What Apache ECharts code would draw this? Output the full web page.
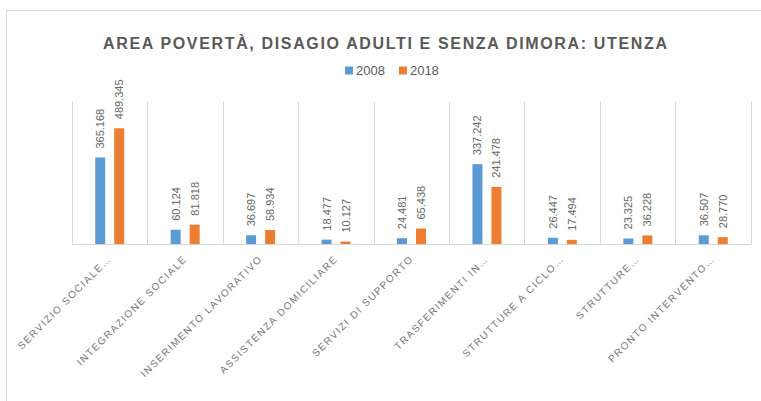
<!DOCTYPE html>
<html>
<head>
<meta charset="utf-8">
<script src="https://cdn.jsdelivr.net/npm/echarts@6/dist/echarts.min.js"></script>
<style>
  html, body { margin: 0; padding: 0; background: #fff; }
  #chart { width: 761px; height: 401px; }
  /* tracked caps for the title and the category labels */
  #chart text[style*="16px"] { letter-spacing: 1.65px; }
  #chart text[style*="10px"] { letter-spacing: 1.5px; }
</style>
</head>
<body>
<div id="chart"></div>
<script>
// Service categories (labels as shown, truncated where they overflow)
const categories = [
  'SERVIZIO SOCIALE…',
  'INTEGRAZIONE SOCIALE',
  'INSERIMENTO LAVORATIVO',
  'ASSISTENZA DOMICILIARE',
  'SERVIZI DI SUPPORTO',
  'TRASFERIMENTI IN…',
  'STRUTTURE A CICLO…',
  'STRUTTURE…',
  'PRONTO INTERVENTO…'
];
const seriesNames = ['2008', '2018'];
const users2008 = [365168, 60124, 36697, 18477, 24481, 337242, 26447, 23325, 36507];
const users2018 = [489345, 81818, 58934, 10127, 65438, 241478, 17494, 36228, 28770];

// Italian thousands separator: 365168 -> "365.168"
function fmt(v) {
  const s = String(Math.round(v));
  return s.replace(/\B(?=(\d{3})+(?!\d))/g, '.');
}

const labelStyle = {
  show: true,
  position: 'top',
  rotate: 90,
  align: 'left',
  verticalAlign: 'middle',
  distance: 9,
  color: '#666666',
  fontFamily: 'Liberation Sans',
  fontSize: 11,
  formatter: p => fmt(p.value)
};

const chart = echarts.init(document.getElementById('chart'), null, { renderer: 'svg' });
chart.setOption({
  backgroundColor: '#ffffff',
  animation: false,
  title: {
    text: 'AREA POVERTÀ, DISAGIO ADULTI E SENZA DIMORA: UTENZA',
    left: 103,
    top: 35,
    padding: 0,
    textStyle: {
      fontFamily: 'Liberation Sans',
      fontWeight: 'bold',
      fontSize: 16,
      color: '#595959'
    }
  },
  legend: {
    data: seriesNames,
    top: 64,
    left: 345,
    padding: 0,
    itemWidth: 8,
    itemHeight: 8,
    itemGap: 14,
    icon: 'rect',
    textStyle: { fontFamily: 'Liberation Sans', fontSize: 13, color: '#595959', padding: [0, 0, 0, -2] }
  },
  grid: { left: 72, right: 10, top: 102, bottom: 157 },
  xAxis: {
    type: 'category',
    data: categories,
    axisLine: { show: true, lineStyle: { color: '#d9d9d9', width: 1 } },
    axisTick: { show: false },
    splitLine: { show: true, lineStyle: { color: '#d9d9d9', width: 1 } },
    axisLabel: {
      interval: 0,
      rotate: 45,
      margin: 13,
      color: '#767676',
      fontFamily: 'Liberation Sans',
      fontSize: 10
    }
  },
  yAxis: {
    type: 'value',
    min: 0,
    max: 600000,
    show: false,
    splitLine: { show: false }
  },
  graphic: [
    {
      type: 'rect',
      shape: { x: 6.5, y: 10.5, width: 800, height: 420 },
      style: { fill: 'none', stroke: '#d9d9d9', lineWidth: 1 },
      silent: true,
      z: -1
    }
  ],
  series: [
    {
      name: seriesNames[0],
      type: 'bar',
      data: users2008,
      barWidth: 10,
      barGap: '90%',
      itemStyle: { color: '#5b9bd5' },
      label: labelStyle
    },
    {
      name: seriesNames[1],
      type: 'bar',
      data: users2018,
      barWidth: 10,
      itemStyle: { color: '#ed7d31' },
      label: labelStyle
    }
  ]
});
</script>
</body>
</html>
